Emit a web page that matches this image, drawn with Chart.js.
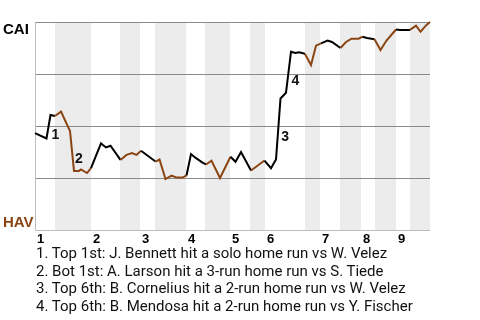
<!DOCTYPE html>
<html>
<head>
<meta charset="utf-8">
<script src="https://cdn.jsdelivr.net/npm/chart.js@4/dist/chart.umd.min.js"></script>
<style>
  html, body { margin: 0; padding: 0; background: #fff; }
  #wrap { position: relative; width: 480px; height: 320px; overflow: hidden; }
  #c { position: absolute; left: 0; top: 0; }
  #notes { position: absolute; left: 36px; top: 245px; font-family: Roboto, "Noto Sans", sans-serif; font-size: 15px; line-height: 17.5px; color: #111; white-space: nowrap; }
</style>
</head>
<body>
<div id="wrap">
  <canvas id="c" width="480" height="320"></canvas>
  <div id="notes"></div>
</div>
<script>
// ---- data ----
const teams = ["CAI", "HAV"];            // top = away (CAI), bottom = home (HAV)
const innings = ["1","2","3","4","5","6","7","8","9"];
// half-inning boundaries in plate-appearance units (top1 start, bot1 start, top2 start, ...)
const halfBounds = [0, 4, 11.2, 17, 21, 24, 30.2, 34, 39, 43, 46, 54, 57, 61, 65.2, 68, 72.2, 75, 79];
// game progress (plate appearances) and CAI win probability
const progress = [0, 2.3, 3.1, 4, 5.2, 7, 7.8, 8.8, 9.2, 10.4, 11.2, 13.2, 14.2, 15.1, 17.1, 18.3, 19.4, 20.3, 21.2, 24.1,
  24.9, 26.1, 27.3, 28.4, 29.5, 30.3, 31.2, 32, 33.5, 34.2, 35.3, 37, 39.1, 40.1, 41.2, 43.2, 45.9, 47.2, 48.2, 49.1,
  50.2, 51.2, 52.1, 52.8, 53.6, 54, 55.2, 56.2, 57.2, 58.5, 59.4, 61.1, 62.2, 63.3, 64.7, 65.5, 66.4, 67.9, 69.1, 70.3,
  72.2, 73, 75, 76.2, 77.1, 78.3, 79];
const winProb = [0.466, 0.44, 0.553, 0.548, 0.569, 0.476, 0.284, 0.284, 0.291, 0.274, 0.298, 0.416, 0.397, 0.405, 0.337, 0.361, 0.37, 0.361, 0.381, 0.329,
  0.339, 0.245, 0.261, 0.252, 0.252, 0.262, 0.365, 0.349, 0.324, 0.315, 0.333, 0.25, 0.352, 0.328, 0.375, 0.286, 0.334, 0.297, 0.339, 0.632,
  0.66, 0.857, 0.851, 0.854, 0.85, 0.846, 0.793, 0.886, 0.897, 0.911, 0.904, 0.875, 0.904, 0.92, 0.92, 0.929, 0.923, 0.917, 0.865, 0.911,
  0.964, 0.962, 0.962, 0.982, 0.953, 0.986, 1.0];
const gridValues = [0.25, 0.5, 0.75, 1];
// key plays: index of the point that ends each play's segment
const keyIdx = [2, 6, 39, 41];
const keyText = [
  "1. Top 1st: J. Bennett hit a solo home run vs W. Velez",
  "2. Bot 1st: A. Larson hit a 3-run home run vs S. Tiede",
  "3. Top 6th: B. Cornelius hit a 2-run home run vs W. Velez",
  "4. Top 6th: B. Mendosa hit a 2-run home run vs Y. Fischer"
];

const AWAY_COLOR = "#000000";
const HOME_COLOR = "#8b4513";
const BAND_COLOR = "#ececec";

document.getElementById("notes").innerHTML = keyText.map(t => "<div>" + t + "</div>").join("");

function isBottomHalf(x) {
  for (let i = 0; i < halfBounds.length - 1; i++) {
    if (x >= halfBounds[i] && x < halfBounds[i + 1]) return i % 2 === 1;
  }
  return true;
}

const bgPlugin = {
  id: "bg",
  beforeDatasetsDraw(chart) {
    const { ctx, chartArea: a, scales: { x, y } } = chart;
    ctx.save();
    ctx.fillStyle = BAND_COLOR;
    for (let i = 1; i < halfBounds.length - 1; i += 2) {
      const x0 = x.getPixelForValue(halfBounds[i]);
      const x1 = x.getPixelForValue(halfBounds[i + 1]);
      ctx.fillRect(x0, a.top, x1 - x0, a.bottom - a.top);
    }
    // grid lines
    ctx.strokeStyle = "#8a8a8a";
    ctx.lineWidth = 1;
    gridValues.forEach(v => {
      const py = Math.round(y.getPixelForValue(v)) + 0.5;
      ctx.beginPath();
      ctx.moveTo(a.left, py);
      ctx.lineTo(a.right, py);
      ctx.stroke();
    });
    // axis borders
    ctx.strokeStyle = "#bdbdbd";
    ctx.beginPath();
    const lx = Math.round(a.left) + 0.5, by = Math.round(y.getPixelForValue(0)) + 0.5;
    ctx.moveTo(lx, Math.round(y.getPixelForValue(1)));
    ctx.lineTo(lx, by);
    ctx.lineTo(a.right, by);
    ctx.stroke();
    ctx.restore();
  },
  afterDatasetsDraw(chart) {
    const { ctx, chartArea: a, scales: { x, y } } = chart;
    const pts = chart.getDatasetMeta(0).data;
    ctx.save();
    // key play labels
    ctx.fillStyle = "#111";
    ctx.font = "bold 14px 'Liberation Sans', Arial, sans-serif";
    ctx.textAlign = "left";
    ctx.textBaseline = "top";
    keyIdx.forEach((k, i) => {
      const p0 = pts[k - 1], p1 = pts[k];
      const mx = (p0.x + p1.x) / 2, my = (p0.y + p1.y) / 2;
      ctx.fillText(String(i + 1), mx + 3, my + 1.5);
    });
    // team labels
    ctx.font = "bold 15px 'Liberation Sans', Arial, sans-serif";
    ctx.textBaseline = "alphabetic";
    ctx.fillStyle = AWAY_COLOR;
    ctx.fillText(teams[0], 3, y.getPixelForValue(1) + 12);
    ctx.fillStyle = HOME_COLOR;
    ctx.fillText(teams[1], 3, y.getPixelForValue(0) - 3.5);
    // inning labels
    ctx.fillStyle = "#000";
    ctx.font = "bold 13px 'Liberation Sans', Arial, sans-serif";
    innings.forEach((lab, i) => {
      ctx.fillText(lab, x.getPixelForValue(halfBounds[i * 2]) + 2, a.bottom + 12.5);
    });
    ctx.restore();
  }
};

new Chart(document.getElementById("c"), {
  type: "line",
  data: {
    datasets: [{
      data: progress.map((p, i) => ({ x: p, y: winProb[i] })),
      borderWidth: 2,
      pointRadius: 0,
      tension: 0,
      borderColor: AWAY_COLOR,
      clip: 3,
      segment: {
        borderColor: c => isBottomHalf((c.p0.parsed.x + c.p1.parsed.x) / 2) ? HOME_COLOR : AWAY_COLOR
      }
    }]
  },
  options: {
    responsive: false,
    animation: false,
    events: [],
    layout: { padding: { left: 35, right: 50, top: 22, bottom: 90 } },
    plugins: { legend: { display: false }, tooltip: { enabled: false } },
    scales: {
      x: { type: "linear", min: halfBounds[0], max: halfBounds[halfBounds.length - 1], display: false },
      y: { type: "linear", min: 0, max: 1, display: false }
    }
  },
  plugins: [bgPlugin]
});
</script>
</body>
</html>
